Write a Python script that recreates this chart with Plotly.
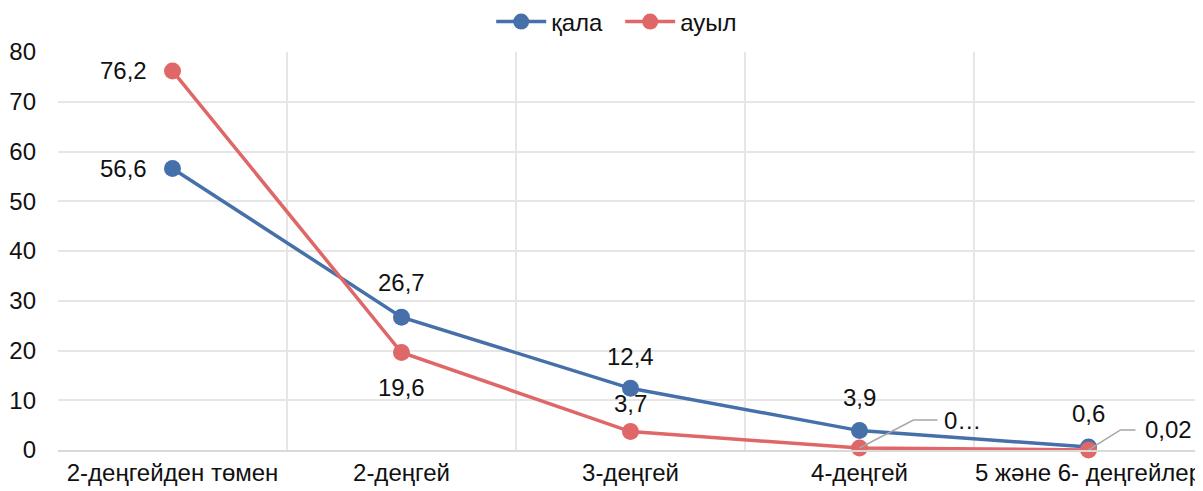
import plotly.graph_objects as go

categories = ["2-деңгейден төмен", "2-деңгей", "3-деңгей", "4-деңгей", "5 және 6- деңгейлер"]
qala = [56.6, 26.7, 12.4, 3.9, 0.6]
auyl = [76.2, 19.6, 3.7, 0.4, 0.02]
qala_labels = ["56,6", "26,7", "12,4", "3,9", "0,6"]
auyl_labels = ["76,2", "19,6", "3,7", "0…", "0,02"]

BLUE = "#4670a9"
RED = "#e06767"
FONT = "Liberation Sans, Arial, sans-serif"
FS = 24
xs = list(range(len(categories)))

fig = go.Figure()
fig.add_trace(go.Scatter(
    x=xs, y=qala, name="қала", mode="lines+markers",
    line=dict(color=BLUE, width=3.5), marker=dict(size=17, color=BLUE),
    cliponaxis=False,
))
fig.add_trace(go.Scatter(
    x=xs, y=auyl, name="ауыл", mode="lines+markers",
    line=dict(color=RED, width=3.5), marker=dict(size=17, color=RED),
    cliponaxis=False,
))

# label placement (pixel offsets from the point)
qala_shift = [("right", -24, 0), ("center", 0, 35), ("center", 0, 32), ("center", 0, 33), ("center", 0, 34)]
auyl_shift = [("right", -24, 0), ("center", 0, -35), ("center", 0, 28), ("center", 103, 28), ("center", 80, 20)]
for series, labels, shifts in ((qala, qala_labels, qala_shift), (auyl, auyl_labels, auyl_shift)):
    for i, (v, t, (anc, dx, dy)) in enumerate(zip(series, labels, shifts)):
        fig.add_annotation(
            x=i, y=v, text=t, showarrow=False, xanchor=anc, yanchor="middle",
            xshift=dx, yshift=dy, font=dict(size=FS, color="#111", family=FONT),
        )

# leader lines for the two smallest rural values
leaders = {3: (54, 28, 78), 4: (32, 20, 47)}
for i, (ex, ey, hx) in leaders.items():
    fig.add_shape(
        type="path", xref="x", yref="y", xsizemode="pixel", ysizemode="pixel",
        xanchor=i, yanchor=auyl[i],
        path=f"M0,0 L{ex},{ey} L{hx},{ey}",
        line=dict(color="#a6a6a6", width=1.5),
    )

fig.update_layout(
    width=1203, height=491,
    margin=dict(l=50, r=8, t=44, b=49),
    plot_bgcolor="white", paper_bgcolor="white",
    font=dict(family=FONT, size=FS, color="#111"),
    legend=dict(orientation="h", x=0.491, xanchor="center", y=0.9715, yref="container",
                yanchor="middle", font=dict(size=FS), itemwidth=50, entrywidth=64),
    showlegend=True,
)
fig.update_xaxes(tickmode="array", tickvals=xs, ticktext=categories,
                 showgrid=False, ticks="", showline=True, linecolor="#d9d9d9", linewidth=1.5,
                 range=[-0.5, 4.5], automargin=False, zeroline=False,
                 minor=dict(tickvals=[-0.5, 0.5, 1.5, 2.5, 3.5, 4.5], showgrid=True,
                            gridcolor="#e6e6e6", gridwidth=1.5, ticks=""))
fig.update_yaxes(range=[0, 80], dtick=10, showgrid=True, gridcolor="#e6e6e6", gridwidth=1.5,
                 zeroline=False, ticks="", ticklabelstandoff=21, automargin=False)

fig.write_html("out.html")
